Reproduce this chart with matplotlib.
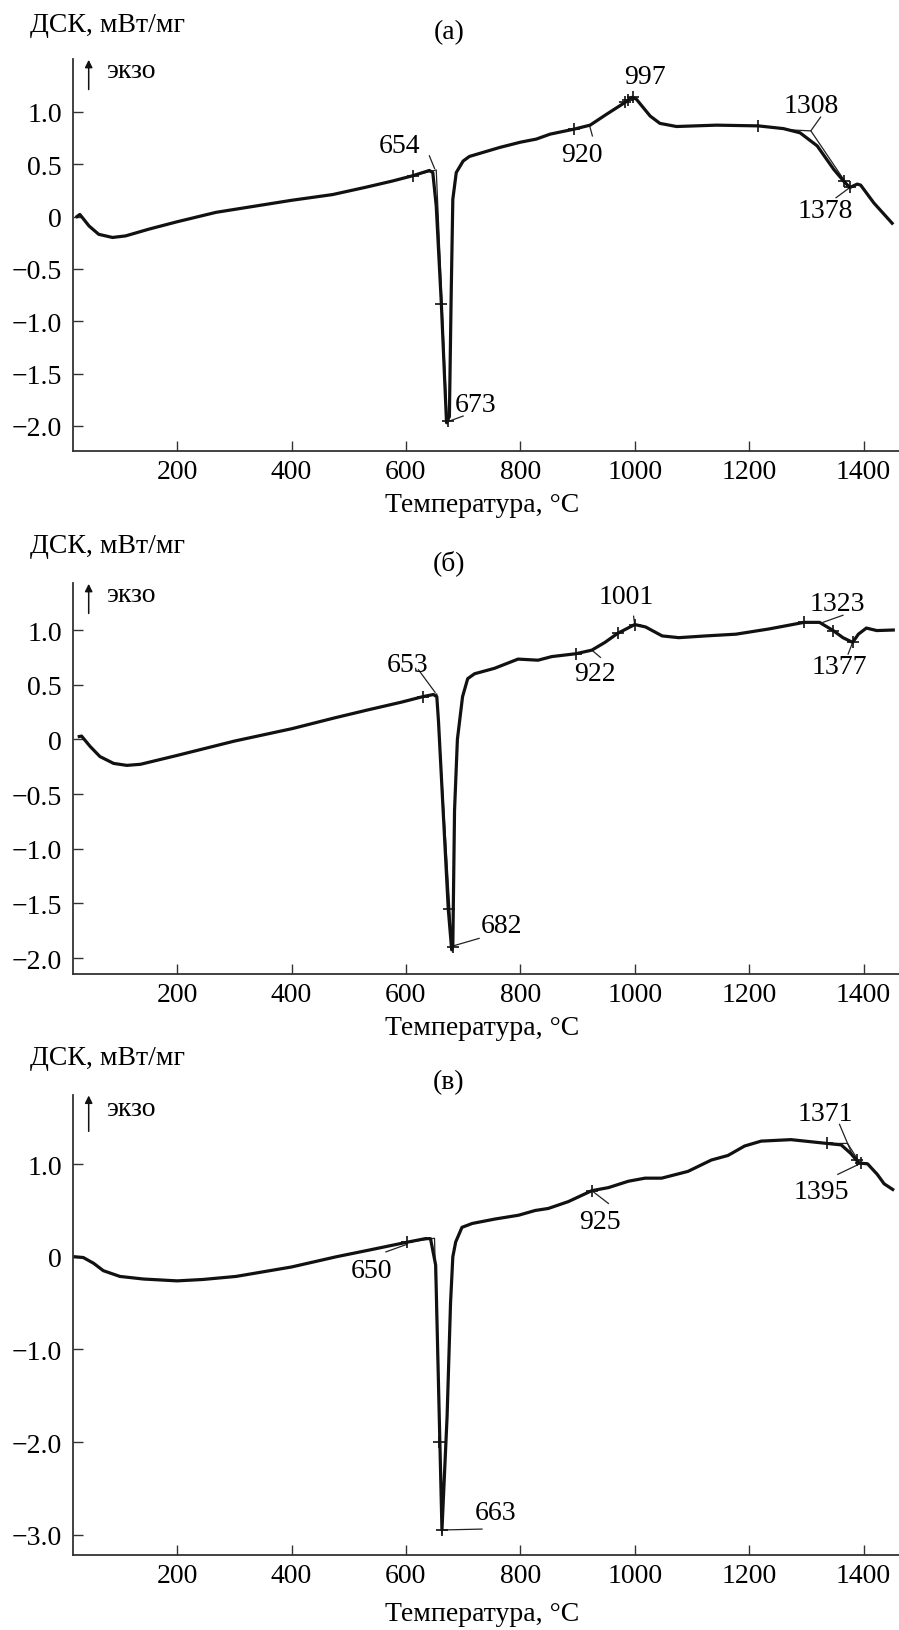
import matplotlib
matplotlib.use('Agg')
import matplotlib.pyplot as plt

plt.rcParams['font.family'] = ['Liberation Serif', 'DejaVu Serif']
plt.rcParams['font.size'] = 20

# панель (а)
T_a = [25, 30, 46, 63, 87, 110, 151, 200, 268, 400, 472, 530, 577, 612, 641, 647, 653, 662, 671,
       676, 679, 682, 688, 700, 711, 764, 800, 828, 852, 894, 922, 951, 983, 996, 1003, 1027, 1044,
       1073, 1143, 1216, 1260, 1289, 1319, 1348, 1365, 1376, 1389, 1395, 1418, 1450]
dsc_a = [0.0, 0.02, -0.09, -0.17, -0.20, -0.185, -0.12, -0.05, 0.04, 0.155, 0.21, 0.28, 0.34, 0.39,
         0.44, 0.42, 0.10, -0.84, -1.97, -1.91, -0.79, 0.165, 0.42, 0.53, 0.574, 0.66, 0.71, 0.74,
         0.787, 0.835, 0.873, 0.978, 1.09, 1.14, 1.12, 0.96, 0.89, 0.86, 0.873, 0.866, 0.84, 0.80,
         0.675, 0.45, 0.34, 0.277, 0.31, 0.30, 0.13, -0.064]
marks_a = [(612, 0.39), (662, -0.84), (673, -1.95), (894, 0.835), (983, 1.09), (989, 1.11),
           (997, 1.14), (1216, 0.866), (1365, 0.34), (1376, 0.28)]
tang_a = [[(612, 0.39), (653, 0.445), (672, -1.95)],
          [(1265, 0.83), (1308, 0.818), (1372, 0.30)]]
lead_a = [[(641, 0.58), (650, 0.46)], [(676, -1.954), (700, -1.906)], [(921, 0.87), (926, 0.77)],
          [(1308, 0.82), (1325, 0.95)], [(1376, 0.277), (1352, 0.18)]]
labels_a = [('654', 588, 0.675), ('673', 722, -1.795), ('920', 907, 0.596), ('997', 1017, 1.34),
            ('1308', 1308, 1.063), ('1378', 1333, 0.054)]

# панель (б)
T_b = [29, 33, 48, 65, 89, 112, 136, 200, 300, 401, 475, 534, 592, 629, 648, 654, 657, 674, 680,
       682, 685, 690, 699, 708, 720, 755, 796, 831, 855, 897, 925, 948, 970, 1000, 1019, 1048, 1077,
       1124, 1177, 1235, 1296, 1323, 1347, 1364, 1381, 1391, 1405, 1423, 1452]
dsc_b = [0.026, 0.03, -0.065, -0.157, -0.22, -0.238, -0.228, -0.147, -0.016, 0.098, 0.196, 0.27,
         0.34, 0.39, 0.41, 0.39, 0.16, -1.55, -1.925, -1.89, -0.65, 0.0, 0.39, 0.555, 0.60, 0.65,
         0.734, 0.724, 0.757, 0.783, 0.816, 0.887, 0.969, 1.05, 1.028, 0.946, 0.93, 0.946, 0.962,
         1.01, 1.07, 1.07, 0.995, 0.93, 0.887, 0.962, 1.018, 0.995, 1.0]
marks_b = [(629, 0.39), (675, -1.55), (682, -1.90), (897, 0.783), (970, 0.969), (1000, 1.05),
           (1296, 1.07), (1347, 0.995), (1381, 0.887)]
tang_b = [[(629, 0.39), (654, 0.415), (681, -1.92)]]
lead_b = [[(622, 0.636), (651, 0.43)], [(682, -1.89), (728, -1.82)], [(925, 0.816), (940, 0.75)],
          [(1000, 1.05), (998, 1.126)], [(1329, 1.07), (1364, 1.135)], [(1381, 0.887), (1373, 0.78)]]
labels_b = [('653', 603, 0.685), ('682', 767, -1.70), ('922', 931, 0.60), ('1001', 986, 1.305),
            ('1323', 1355, 1.246), ('1377', 1358, 0.669)]

# панель (в)
T_c = [22, 36, 54, 71, 100, 141, 200, 245, 303, 400, 478, 536, 600, 634, 643, 652, 663, 672, 678,
       682, 687, 698, 716, 756, 797, 826, 849, 884, 925, 954, 989, 1018, 1047, 1093, 1134, 1163,
       1192, 1221, 1273, 1336, 1361, 1378, 1392, 1407, 1424, 1436, 1451]
dsc_c = [0.0, -0.008, -0.07, -0.15, -0.212, -0.24, -0.26, -0.245, -0.212, -0.11, 0.0, 0.073, 0.155,
         0.196, 0.196, -0.09, -2.95, -1.72, -0.5, 0.0, 0.16, 0.318, 0.36, 0.408, 0.449, 0.50, 0.522,
         0.596, 0.714, 0.747, 0.816, 0.849, 0.849, 0.922, 1.045, 1.094, 1.196, 1.249, 1.265, 1.224,
         1.208, 1.114, 1.012, 1.004, 0.89, 0.788, 0.727]
marks_c = [(602, 0.155), (657, -2.0), (663, -2.95), (925, 0.714), (1336, 1.224), (1388, 1.04),
           (1395, 1.01)]
tang_c = [[(602, 0.155), (650, 0.20), (663, -2.99)],
          [(1336, 1.224), (1372, 1.224), (1394, 1.01)]]
lead_c = [[(565, 0.053), (602, 0.135)], [(663, -2.95), (733, -2.94)], [(925, 0.714), (954, 0.576)],
          [(1358, 1.43), (1381, 1.094)], [(1392, 1.0), (1355, 0.89)]]
labels_c = [('650', 540, -0.15), ('663', 756, -2.76), ('925', 939, 0.38), ('1371', 1334, 1.543),
            ('1395', 1326, 0.706)]

xticks = [200, 400, 600, 800, 1000, 1200, 1400]
yticks_ab = [-2.0, -1.5, -1.0, -0.5, 0, 0.5, 1.0]
yticks_c = [-3.0, -2.0, -1.0, 0, 1.0]


def ylab(v):
    if v == 0:
        return '0'
    return ('%.1f' % v).replace('-', '\u2212')


W, H = 899, 1631
fig = plt.figure(figsize=(W / 100, H / 100), dpi=100)

panels = [
    # данные, ylim, yticks, пиксели: верх, низ, подписи
    (T_a, dsc_a, marks_a, tang_a, lead_a, labels_a, (-2.24, 1.505), yticks_ab, 60, 452,
     '(а)', 25, 33, 506),
    (T_b, dsc_b, marks_b, tang_b, lead_b, labels_b, (-2.146, 1.43), yticks_ab, 584, 975,
     '(б)', 547, 563, 1029),
    (T_c, dsc_c, marks_c, tang_c, lead_c, labels_c, (-3.22, 1.747), yticks_c, 1096, 1556,
     '(в)', 1059, 1083, 1615),
]

left = 73
for (T, d, marks, tang, lead, labs, ylim, yt, top, bot, name, y_dsc, y_name, y_xl) in panels:
    ax = fig.add_axes([left / W, 1 - bot / H, (W - left) / W, (bot - top) / H])
    ax.plot(T, d, color='#111111', lw=2.3, solid_joinstyle='round', zorder=3)
    for ln in tang:
        xs, ys = zip(*ln)
        ax.plot(xs, ys, color='#222222', lw=0.9, zorder=2)
    for ln in lead:
        xs, ys = zip(*ln)
        ax.plot(xs, ys, color='#222222', lw=0.9, zorder=2)
    mx, my = zip(*marks)
    ax.plot(mx, my, '+', color='#111111', ms=9, mew=1.2, zorder=4)
    for s, x, y in labs:
        ax.text(x, y, s, ha='center', va='center')

    ax.set_xlim(18, 1462)
    ax.set_ylim(*ylim)
    ax.set_xticks(xticks)
    ax.set_xticklabels([str(v) for v in xticks])
    ax.set_yticks(yt)
    ax.set_yticklabels([ylab(v) for v in yt])
    ax.tick_params(direction='in', length=7, width=1, color='#333333', labelsize=20, pad=8)
    ax.tick_params(axis='x', pad=6)
    for sp in ['top', 'right']:
        ax.spines[sp].set_visible(False)
    for sp in ['left', 'bottom']:
        ax.spines[sp].set_linewidth(1.3)
        ax.spines[sp].set_color('#333333')

    # стрелка «экзо»
    ax.annotate('', xy=(0.019, 1.005), xytext=(0.019, 0.915), xycoords='axes fraction',
                arrowprops=dict(arrowstyle='-|>', color='#111111', lw=1.1, mutation_scale=11),
                annotation_clip=False)
    ax.text(0.04, 0.97, 'экзо', transform=ax.transAxes, ha='left', va='center')

    fig.text(30 / W, 1 - y_dsc / H, 'ДСК, мВт/мг', ha='left', va='center')
    fig.text(449 / W, 1 - y_name / H, name, ha='center', va='center')
    fig.text(482 / W, 1 - y_xl / H, 'Температура, °C', ha='center', va='center')

fig.savefig('out.png', dpi=100)
